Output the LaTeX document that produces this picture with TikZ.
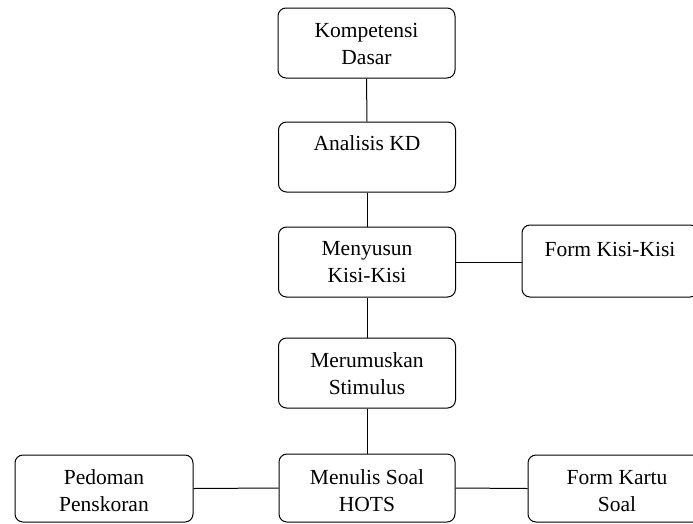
\documentclass[tikz,border=0pt]{standalone}
\usepackage{fontspec}
\setmainfont{Liberation Serif}
\begin{document}
\begin{tikzpicture}[x=1pt,y=-1pt,
  box/.style={draw=black,line width=1pt,rounded corners=8pt,minimum width=177pt,minimum height=70pt,inner sep=0pt},
  lbl/.style={anchor=base,align=center,inner sep=0pt,font=\fontsize{21.5}{27}\selectfont},
  con/.style={draw=black,line width=1pt}]
\useasboundingbox (0,0) rectangle (693,523);
\node[box] (b1) at (366.5,43) {};
\node[box] (b2) at (367,157) {};
\node[box] (b3) at (367,262) {};
\node[box,minimum width=176pt,minimum height=72pt] (b4) at (610,261) {};
\node[box] (b5) at (367,373) {};
\node[box,minimum width=176pt,minimum height=68pt] (b6) at (367,488) {};
\node[box,minimum width=178pt,minimum height=67pt] (b7) at (104,488.5) {};
\node[box,minimum width=178pt,minimum height=67pt] (b8) at (617,488.5) {};
\node[lbl] (t1) at ([yshift=-57pt]b1.north) {Kompetensi\\Dasar};
\node[lbl] (t2) at ([yshift=-29pt]b2.north) {Analisis KD};
\node[lbl] (t3) at ([yshift=-56pt]b3.north) {Menyusun\\Kisi-Kisi};
\node[lbl] (t4) at ([yshift=-32pt]b4.north) {Form Kisi-Kisi};
\node[lbl] (t5) at ([yshift=-57pt]b5.north) {Merumuskan\\Stimulus};
\node[lbl] (t6) at ([yshift=-58pt]b6.north) {Menulis Soal\\HOTS};
\node[lbl] (t7) at ([yshift=-57pt]b7.north) {Pedoman\\Penskoran};
\node[lbl] (t8) at ([yshift=-57pt]b8.north) {Form Kartu\\Soal};
\draw[con] (b1.south) -- (b2.north);
\draw[con] (b2.south) -- (b3.north);
\draw[con] (b3.south) -- (b5.north);
\draw[con] (b5.south) -- (b6.north);
\draw[con] (b3.east) -- (b3.east -| b4.west);
\draw[con] (b7.east) -- (b6.west);
\draw[con] (b6.east) -- (b8.west);
\end{tikzpicture}
\end{document}
